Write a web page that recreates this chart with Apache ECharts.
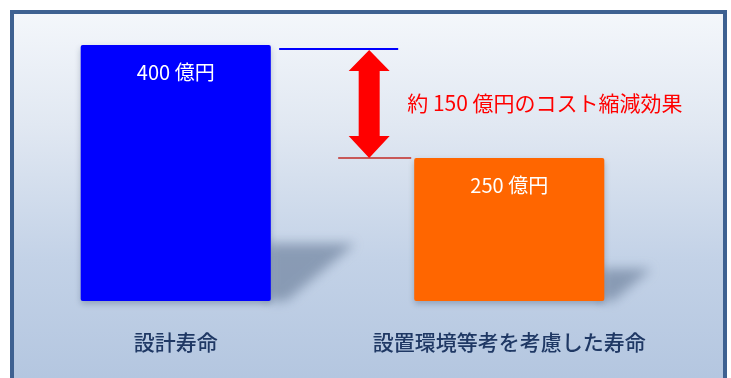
<!DOCTYPE html>
<html>
<head>
<meta charset="utf-8">
<script src="https://cdn.jsdelivr.net/npm/echarts@6/dist/echarts.min.js"></script>
<style>
html,body{margin:0;padding:0;background:#fff;}
#chart{width:731px;height:378px;}
</style>
</head>
<body>
<div id="chart"></div>
<script>
const categories = ['設計寿命', '設置環境等考を考慮した寿命'];
const values = [400, 250];
const unit = '億円';
const axisMin = 60;
const axisMax = 400;

const FONT = '"Noto Sans CJK JP", "Noto Sans", sans-serif';
const saving = values[0] - values[1];

const chart = echarts.init(document.getElementById('chart'), null, {renderer: 'canvas'});

function bandInfo(api) {
  const band = api.size([1, 0])[0];
  return {band: band, half: band * 0.57 / 2};
}

const OFF = 2000;

const option = {
  animation: false,
  graphic: [{
    type: 'rect',
    z: -10,
    silent: true,
    shape: {x: 12, y: 12, width: 713, height: 380},
    style: {
      fill: new echarts.graphic.LinearGradient(0, 0, 0, 1, [
        {offset: 0, color: '#f4f7fb'},
        {offset: 0.3, color: '#e1e8f2'},
        {offset: 0.65, color: '#c3d2e7'},
        {offset: 1, color: '#b2c5df'}
      ]),
      stroke: '#3e6191',
      lineWidth: 4
    }
  }],
  grid: {left: 9, right: 55, top: 45, bottom: 77},
  xAxis: {
    type: 'category',
    data: categories,
    axisLine: {show: false},
    axisTick: {show: false},
    axisLabel: {
      interval: 0,
      margin: 31,
      fontSize: 21,
      fontWeight: 500,
      color: '#1f3864',
      fontFamily: FONT
    }
  },
  yAxis: {
    type: 'value',
    min: axisMin,
    max: axisMax,
    show: false,
    splitLine: {show: false}
  },
  series: [
    {
      type: 'custom',
      z: 1,
      silent: true,
      clip: false,
      data: values.map((v, i) => [i, v]),
      renderItem: function (params, api) {
        const idx = api.value(0);
        const top = api.coord([idx, api.value(1)]);
        const base = api.coord([idx, axisMin]);
        const b = bandInfo(api);
        const h = base[1] - top[1];
        const right = top[0] + b.half;
        const by = base[1];
        return {
          type: 'polygon',
          shape: {points: [
            [right - 4 - OFF, by - 0.225 * h],
            [right + 0.33 * h - OFF, by - 0.225 * h],
            [right + 0.06 * h - OFF, by],
            [right - 4 - OFF, by]
          ]},
          style: {
            fill: 'rgba(110,128,155,1)',
            shadowBlur: 12,
            shadowOffsetX: OFF,
            shadowColor: 'rgba(118,136,163,0.75)'
          }
        };
      }
    },
    {
      type: 'bar',
      z: 2,
      barWidth: '57%',
      data: values.map((v, i) => ({
        value: v,
        itemStyle: {color: i === 0 ? '#0000ff' : '#ff6600'}
      })),
      itemStyle: {
        borderRadius: 2,
        shadowBlur: 6,
        shadowOffsetY: 3,
        shadowColor: 'rgba(40,60,90,0.3)'
      },
      label: {
        show: true,
        position: 'insideTop',
        distance: 17,
        fontSize: 20,
        color: '#ffffff',
        fontFamily: FONT,
        formatter: p => p.value + ' ' + unit
      }
    },
    {
      type: 'custom',
      z: 3,
      silent: true,
      data: [[0]],
      renderItem: function (params, api) {
        const p0 = api.coord([0, values[0]]);
        const p1 = api.coord([1, values[1]]);
        const b = bandInfo(api);
        const band = b.band;
        const topY = p0[1] + 4;
        const botY = p1[1];
        const ax = p0[0] + 0.58 * band;
        const headL = 22, headW = 20.5, shaftW = 10.5;
        return {
          type: 'group',
          children: [
            {
              type: 'line',
              shape: {x1: p0[0] + 0.31 * band, y1: topY, x2: p0[0] + 0.667 * band, y2: topY},
              style: {stroke: '#0000ff', lineWidth: 2}
            },
            {
              type: 'line',
              shape: {x1: p1[0] - 0.513 * band, y1: botY, x2: p1[0] - 0.294 * band, y2: botY},
              style: {stroke: '#c85858', lineWidth: 2}
            },
            {
              type: 'polygon',
              shape: {points: [
                [ax, topY + 1],
                [ax + headW, topY + headL],
                [ax + shaftW, topY + headL],
                [ax + shaftW, botY - headL],
                [ax + headW, botY - headL],
                [ax, botY],
                [ax - headW, botY - headL],
                [ax - shaftW, botY - headL],
                [ax - shaftW, topY + headL],
                [ax - headW, topY + headL]
              ]},
              style: {fill: '#ff0000'}
            },
            {
              type: 'text',
              x: ax + 38,
              y: (topY + botY) / 2,
              style: {
                text: '約 ' + saving + ' ' + unit + 'のコスト縮減効果',
                fill: '#ff0000',
                fontSize: 21,
                fontFamily: FONT,
                verticalAlign: 'middle',
                align: 'left'
              }
            }
          ]
        };
      }
    }
  ]
};
chart.setOption(option);
</script>
</body>
</html>
